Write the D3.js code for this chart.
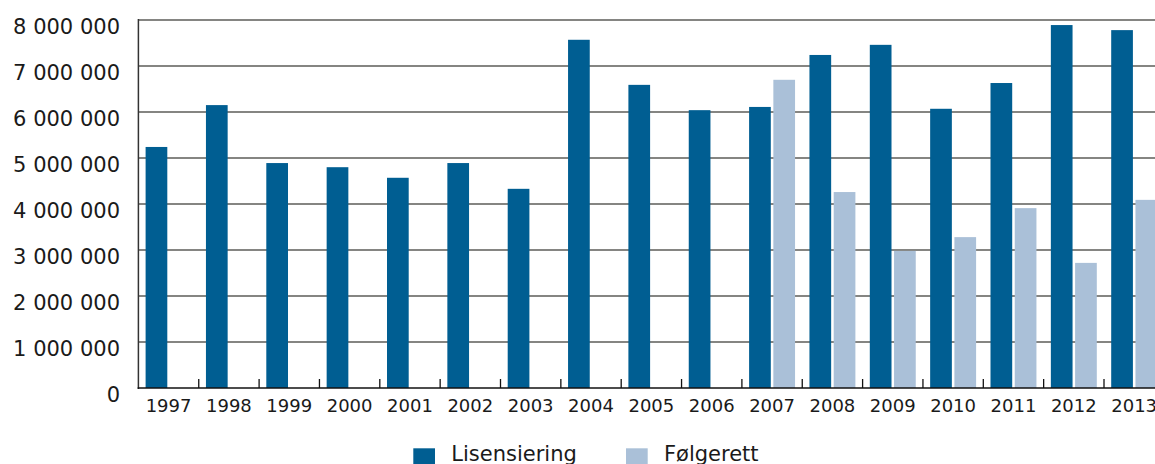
<!DOCTYPE html>
<html>
<head>
<meta charset="utf-8">
<script src="https://cdn.jsdelivr.net/npm/d3@7"></script>
<style>
  body { margin: 0; background: #fff; }
  svg { display: block; font-family: "DejaVu Sans", Verdana, sans-serif; }
</style>
</head>
<body>
<div id="chart"></div>
<script>
// data
var years = ["1997","1998","1999","2000","2001","2002","2003","2004","2005",
             "2006","2007","2008","2009","2010","2011","2012","2013"];
var lisensiering = [5240000, 6150000, 4890000, 4800000, 4570000, 4890000, 4330000,
                    7570000, 6590000, 6040000, 6110000, 7240000, 7460000, 6070000,
                    6630000, 7890000, 7780000];
var folgerett = [null, null, null, null, null, null, null, null, null, null,
                 6700000, 4260000, 2980000, 3280000, 3910000, 2720000, 4090000];
var seriesNames = ["Lisensiering", "Følgerett"];
var colors = ["#005e92", "#aac0d8"];
var yTicks = [0, 1000000, 2000000, 3000000, 4000000, 5000000, 6000000, 7000000, 8000000];

var width = 1155, height = 464;
var plotLeft = 138.4, plotTop = 20, plotBottom = 388;
var plotRight = plotLeft + 17 * 60.35;   // last band runs past the window

var svg = d3.select("#chart").append("svg")
    .attr("width", width)
    .attr("height", height);

var y = d3.scaleLinear().domain([0, 8000000]).range([plotBottom, plotTop]);
var x = d3.scaleBand().domain(years).range([plotLeft, plotRight]).padding(0);
var xSub = d3.scaleBand().domain(seriesNames)
    .range([7.2, x.bandwidth() - 7.2])
    .paddingInner(0.105).paddingOuter(0);

var fmt = function(v){ return d3.format(",")(v).replace(/,/g, " "); };

// gridlines
svg.append("g")
  .selectAll("line")
  .data(yTicks.filter(function(d){ return d > 0; }))
  .enter().append("line")
    .attr("x1", plotLeft).attr("x2", width)
    .attr("y1", function(d){ return y(d); })
    .attr("y2", function(d){ return y(d); })
    .attr("stroke", "#858582")
    .attr("stroke-width", 2);

// y labels
svg.append("g")
  .selectAll("text")
  .data(yTicks)
  .enter().append("text")
    .attr("x", 120)
    .attr("y", function(d){ return y(d) + 6; })
    .attr("dy", "0.36em")
    .attr("text-anchor", "end")
    .attr("font-size", 21)
    .attr("fill", "#1a1a1a")
    .text(fmt);

// bars
var groups = svg.append("g")
  .selectAll("g")
  .data(years)
  .enter().append("g")
    .attr("transform", function(d){ return "translate(" + x(d) + ",0)"; });

groups.selectAll("rect")
  .data(function(d, i){
    return [
      {key: seriesNames[0], value: lisensiering[i], c: colors[0]},
      {key: seriesNames[1], value: folgerett[i], c: colors[1]}
    ].filter(function(e){ return e.value != null; });
  })
  .enter().append("rect")
    .attr("x", function(d){ return xSub(d.key); })
    .attr("width", xSub.bandwidth())
    .attr("y", function(d){ return y(d.value); })
    .attr("height", function(d){ return plotBottom - y(d.value); })
    .attr("fill", function(d){ return d.c; });

// axes lines
svg.append("line")
    .attr("x1", plotLeft).attr("x2", plotLeft)
    .attr("y1", plotTop - 1).attr("y2", plotBottom + 1)
    .attr("stroke", "#333").attr("stroke-width", 1.5);

svg.append("line")
    .attr("x1", plotLeft - 0.75).attr("x2", width)
    .attr("y1", plotBottom).attr("y2", plotBottom)
    .attr("stroke", "#111").attr("stroke-width", 1.6);

// tick marks between categories, pointing up
svg.append("g")
  .selectAll("line")
  .data(years.slice(1))
  .enter().append("line")
    .attr("x1", function(d){ return x(d); })
    .attr("x2", function(d){ return x(d); })
    .attr("y1", plotBottom).attr("y2", plotBottom - 9)
    .attr("stroke", "#111").attr("stroke-width", 1.3);

// x labels
svg.append("g")
  .selectAll("text")
  .data(years)
  .enter().append("text")
    .attr("x", function(d){ return x(d) + x.bandwidth() / 2; })
    .attr("y", 411.5)
    .attr("text-anchor", "middle")
    .attr("font-size", 18)
    .attr("fill", "#1a1a1a")
    .text(function(d){ return d; });

// legend
var legendX = [413.3, 626];
var legend = svg.append("g")
  .selectAll("g")
  .data(seriesNames)
  .enter().append("g")
    .attr("transform", function(d, i){ return "translate(" + legendX[i] + ",0)"; });

legend.append("rect")
    .attr("x", 0).attr("y", 448.3)
    .attr("width", 21.7).attr("height", 18)
    .attr("fill", function(d, i){ return colors[i]; });

legend.append("text")
    .attr("x", 38)
    .attr("y", 460.5)
    .attr("font-size", 21)
    .attr("fill", "#1a1a1a")
    .text(function(d){ return d; });
</script>
</body>
</html>
